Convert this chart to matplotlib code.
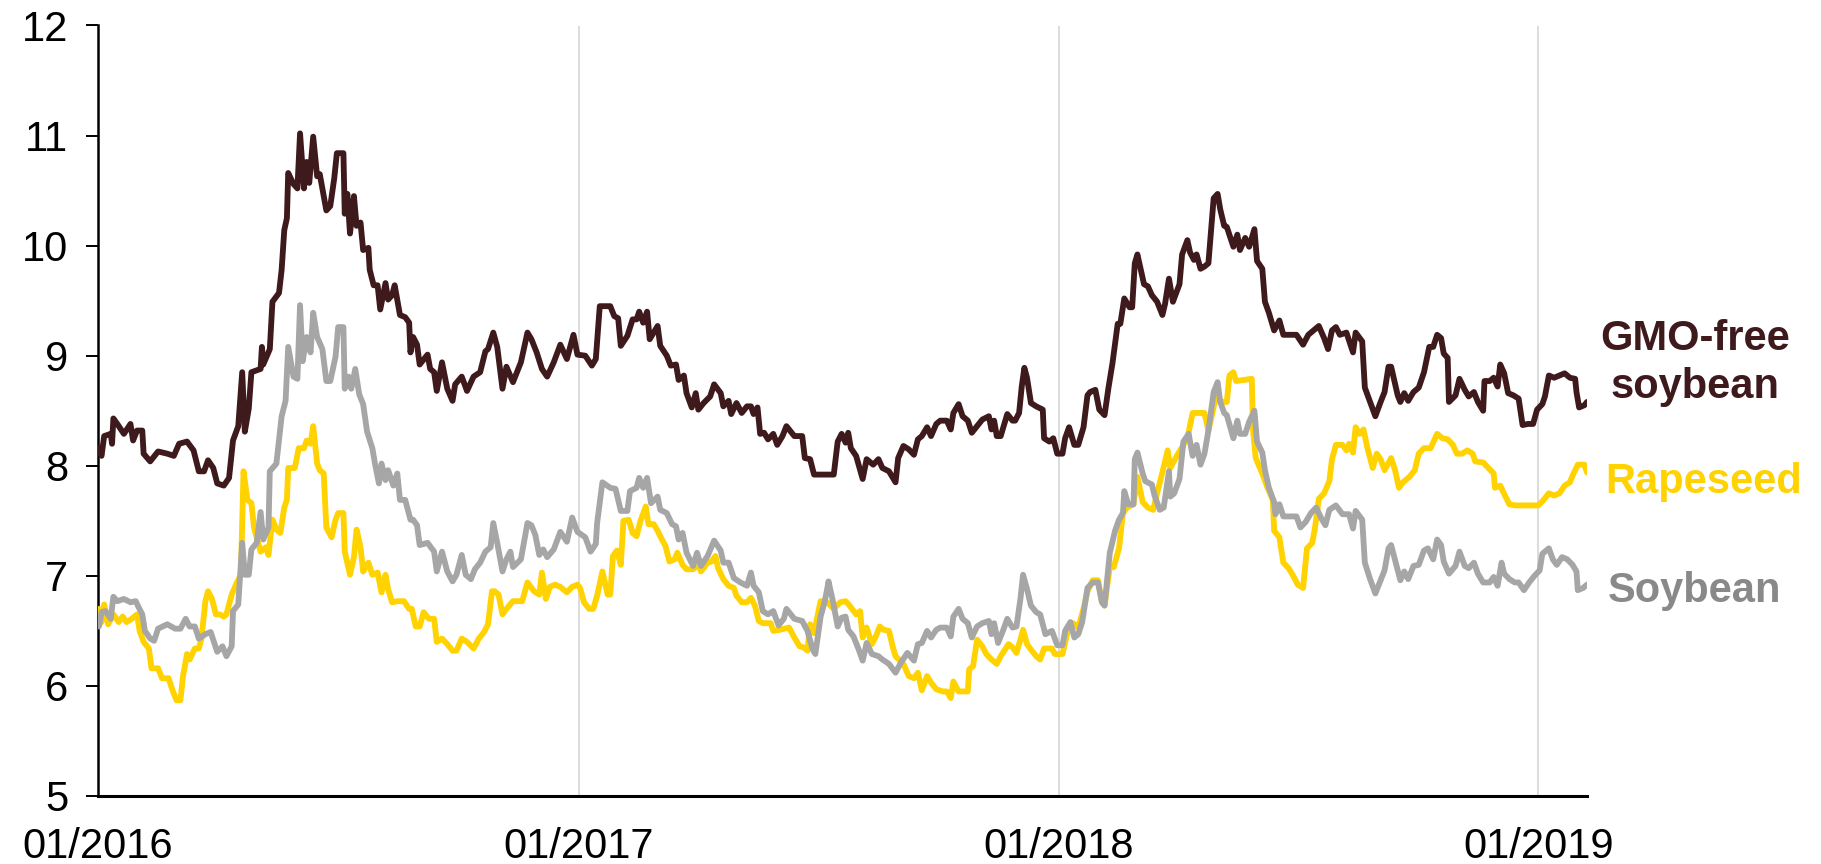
import numpy as np
import pandas as pd
import matplotlib
matplotlib.use("Agg")
import matplotlib.pyplot as plt
import matplotlib.dates as mdates

plt.rcParams["font.family"] = ["Liberation Sans", "DejaVu Sans"]

START = pd.Timestamp("2016-01-01")

# day offsets from 2016-01-01 and prices
gmo_days = [
    1, 3, 5, 10, 11, 12, 15, 20, 25, 27, 30, 34, 35, 40, 46, 53, 58, 62, 68, 73, 77, 81, 84, 88, 91, 96,
    100, 103, 107, 110, 112, 115, 117, 124, 125, 126, 131, 133, 138, 140, 142, 144, 145, 149, 152, 154,
    157, 159, 161, 164, 167, 169, 174, 177, 180, 182, 187, 188, 190, 192, 195, 197, 200, 202, 206, 207,
    210, 213, 215, 219, 221, 224, 226, 230, 234, 237, 238, 240, 243, 245, 251, 253, 256, 258, 262, 266,
    270, 272, 277, 281, 286, 291, 295, 297, 301, 304, 308, 311, 316, 322, 327, 330, 334, 338, 342, 347,
    352, 357, 362, 365,
    371, 376, 379, 382, 390, 393, 396, 398, 403, 407, 410, 412, 415, 418, 420, 426, 428, 433, 436, 440,
    442, 446, 448, 452, 455, 457, 461, 466, 469, 474, 476, 480, 482, 486, 490, 494, 497, 499, 502, 504,
    507, 510, 514, 517, 521, 524, 530, 536, 538, 542, 545, 560, 563, 566, 569, 571, 573, 577, 582, 585,
    590, 594, 597, 602, 607, 609, 613, 617, 621, 624, 627, 631, 634, 638, 641, 646, 649, 651, 655, 658,
    662, 665, 669, 673, 678, 680, 682, 684, 687, 692, 696, 698, 701, 703, 705, 707, 710, 714,
    719, 720, 724, 727, 730, 734, 736, 739, 743, 746, 750, 753, 755, 759, 762, 766, 769, 772, 776, 778,
    781, 785, 787, 789, 791, 796, 799, 802, 806, 810, 812, 815, 818, 823, 825, 829, 831, 834, 836, 839,
    842, 845, 849, 852, 854, 857, 859, 864, 867, 869, 873, 876, 880, 882, 886, 888, 891, 895, 899, 902,
    907, 912, 917, 921, 926, 929, 933, 936, 939, 942, 945, 950, 955, 957, 962, 964, 968, 972, 976, 979,
    982, 984, 989, 991, 994, 997, 1001, 1005, 1009, 1013, 1016, 1019, 1022, 1024, 1027, 1028, 1033,
    1036, 1040, 1043, 1047, 1050, 1054, 1055, 1059, 1062, 1065, 1067, 1070, 1073, 1077, 1081, 1084,
    1088, 1092, 1095, 1099, 1101, 1104, 1108, 1112, 1116, 1120, 1124, 1125, 1127, 1131, 1133,
]
gmo_values = [
    8.16, 8.09, 8.27, 8.29, 8.20, 8.43, 8.38, 8.29, 8.38, 8.23, 8.32, 8.32, 8.11, 8.04, 8.13, 8.11, 8.09,
    8.20, 8.22, 8.14, 7.95, 7.95, 8.05, 7.98, 7.84, 7.82, 7.89, 8.23, 8.36, 8.85, 8.31, 8.52, 8.85, 8.88,
    9.08, 8.92, 9.06, 9.49, 9.57, 9.78, 10.14, 10.25, 10.66, 10.56, 10.52, 11.02, 10.52, 10.76, 10.57,
    10.99, 10.63, 10.65, 10.32, 10.36, 10.61, 10.84, 10.84, 10.29, 10.47, 10.11, 10.45, 10.18, 10.21,
    9.96, 9.98, 9.78, 9.64, 9.64, 9.42, 9.66, 9.51, 9.55, 9.64, 9.37, 9.35, 9.30, 9.03, 9.17, 9.10, 8.92,
    9.01, 8.88, 8.85, 8.68, 8.94, 8.70, 8.59, 8.74, 8.81, 8.68, 8.81, 8.85, 9.04, 9.06, 9.21, 9.08, 8.70,
    8.90, 8.76, 8.94, 9.21, 9.15, 9.03, 8.88, 8.81, 8.94, 9.10, 8.97, 9.19, 9.01,
    9.00, 8.91, 8.97, 9.45, 9.45, 9.36, 9.34, 9.09, 9.18, 9.33, 9.33, 9.40, 9.30, 9.40, 9.15, 9.27, 9.09,
    9.00, 8.91, 8.92, 8.78, 8.82, 8.66, 8.53, 8.66, 8.51, 8.57, 8.63, 8.74, 8.66, 8.54, 8.59, 8.47, 8.57,
    8.48, 8.54, 8.54, 8.47, 8.53, 8.29, 8.30, 8.24, 8.29, 8.19, 8.27, 8.36, 8.27, 8.27, 8.07, 8.06, 7.92,
    7.92, 8.22, 8.29, 8.21, 8.30, 8.16, 8.09, 7.88, 8.06, 8.01, 8.06, 7.98, 7.95, 7.85, 8.07, 8.18, 8.15,
    8.10, 8.24, 8.27, 8.35, 8.27, 8.38, 8.41, 8.41, 8.33, 8.48, 8.56, 8.45, 8.41, 8.30, 8.36, 8.42, 8.45,
    8.33, 8.41, 8.27, 8.27, 8.47, 8.41, 8.41, 8.48, 8.72, 8.89, 8.80, 8.57, 8.54,
    8.51, 8.25, 8.22, 8.25, 8.11, 8.11, 8.25, 8.35, 8.19, 8.19, 8.35, 8.64, 8.67, 8.69, 8.51, 8.46, 8.71,
    8.93, 9.29, 9.29, 9.52, 9.44, 9.44, 9.84, 9.92, 9.65, 9.63, 9.55, 9.49, 9.37, 9.47, 9.70, 9.49, 9.65,
    9.92, 10.05, 9.94, 9.87, 9.92, 9.79, 9.81, 9.84, 10.43, 10.47, 10.33, 10.18, 10.17, 9.99, 10.10, 9.96,
    10.07, 9.99, 10.15, 9.86, 9.79, 9.49, 9.39, 9.23, 9.32, 9.19, 9.19, 9.19, 9.10, 9.19, 9.24, 9.27,
    9.16, 9.06, 9.23, 9.26, 9.19, 9.21, 9.03, 9.21, 9.13, 8.71, 8.58, 8.45, 8.58, 8.67, 8.90, 8.90, 8.64,
    8.58, 8.66, 8.59, 8.67, 8.71, 8.85, 9.08, 9.08, 9.19, 9.16, 9.02, 8.98, 8.58, 8.64, 8.79, 8.69, 8.63,
    8.67, 8.58, 8.50, 8.77, 8.77, 8.80, 8.72, 8.92, 8.84, 8.66, 8.64, 8.61, 8.37, 8.38, 8.38, 8.51, 8.56,
    8.63, 8.82, 8.80, 8.82, 8.84, 8.80, 8.79, 8.67, 8.53, 8.55, 8.58,
]

rapeseed_days = [
    1, 3, 5, 8, 12, 16, 19, 22, 26, 30, 32, 35, 39, 41, 46, 49, 54, 57, 60, 63, 65, 68, 70, 74, 77, 79,
    82, 84, 87, 90, 93, 96, 98, 102, 106, 109, 111, 114, 117, 119, 124, 128, 130, 133, 136, 139, 142,
    144, 145, 150, 153, 157, 159, 162, 164, 167, 169, 172, 174, 178, 181, 183, 187, 188, 192, 195, 197,
    200, 202, 206, 209, 213, 216, 219, 221, 224, 228, 233, 237, 239, 242, 245, 248, 252, 256, 258, 262,
    266, 270, 273, 277, 281, 286, 290, 294, 297, 300, 302, 305, 308, 311, 316, 323, 327, 332, 336, 338,
    341, 344, 348, 352, 357, 361, 365,
    367, 370, 374, 377, 380, 384, 388, 390, 392, 395, 398, 400, 404, 407, 410, 413, 417, 419, 423, 426,
    428, 432, 435, 439, 441, 445, 448, 453, 457, 459, 464, 467, 470, 472, 476, 480, 484, 486, 490, 494,
    497, 500, 503, 506, 512, 514, 519, 526, 530, 534, 537, 540, 542, 545, 550, 555, 560, 565, 569, 572,
    577, 580, 582, 585, 589, 592, 595, 598, 602, 605, 607, 613, 617, 621, 624, 627, 631, 634, 638, 643,
    646, 649, 651, 655, 662, 663, 666, 669, 673, 676, 680, 684, 687, 693, 696, 699, 702, 704, 707, 710,
    714,
    717, 720, 726, 728, 734, 738, 742, 746, 750, 753, 757, 761, 764, 766, 770, 773, 777, 780, 783, 788,
    791, 795, 799, 803, 807, 810, 814, 816, 821, 825, 829, 833, 842, 845, 851, 855, 859, 861, 864, 866,
    878, 879, 881, 886, 890, 894, 895, 899, 902, 906, 910, 913, 917, 920, 924, 926, 929, 933, 937, 939,
    942, 947, 950, 952, 955, 957, 960, 963, 966, 970, 973, 976, 979, 984, 987, 990, 993, 998, 1002, 1005,
    1009, 1014, 1019, 1023, 1027, 1031, 1034, 1038, 1042, 1046, 1048, 1054, 1058, 1062, 1063, 1067,
    1071, 1074, 1078, 1096, 1100, 1104, 1108, 1112, 1116, 1120, 1122, 1126, 1131, 1133,
]
rapeseed_values = [
    6.70, 6.58, 6.74, 6.56, 6.65, 6.58, 6.63, 6.58, 6.61, 6.65, 6.50, 6.40, 6.34, 6.16, 6.16, 6.07, 6.07,
    5.96, 5.87, 5.87, 6.09, 6.29, 6.24, 6.34, 6.34, 6.43, 6.77, 6.86, 6.79, 6.65, 6.65, 6.63, 6.65, 6.83,
    6.94, 7.01, 7.95, 7.69, 7.66, 7.44, 7.22, 7.26, 7.19, 7.51, 7.42, 7.39, 7.62, 7.69, 7.98, 7.98, 8.16,
    8.16, 8.23, 8.20, 8.36, 8.02, 7.96, 7.93, 7.44, 7.35, 7.51, 7.57, 7.57, 7.22, 7.01, 7.17, 7.42, 7.26,
    7.04, 7.12, 7.01, 7.03, 6.85, 7.01, 6.88, 6.76, 6.77, 6.77, 6.70, 6.70, 6.54, 6.54, 6.67, 6.61, 6.61,
    6.40, 6.43, 6.38, 6.32, 6.32, 6.43, 6.40, 6.34, 6.43, 6.49, 6.56, 6.86, 6.86, 6.83, 6.65, 6.70, 6.77,
    6.77, 6.94, 6.86, 6.83, 7.03, 6.79, 6.90, 6.92, 6.90, 6.85, 6.90, 6.92,
    6.89, 6.76, 6.70, 6.70, 6.82, 7.04, 6.83, 6.83, 7.18, 7.23, 7.10, 7.50, 7.51, 7.39, 7.36, 7.50, 7.63,
    7.47, 7.47, 7.41, 7.36, 7.27, 7.13, 7.15, 7.21, 7.10, 7.06, 7.06, 7.10, 7.04, 7.12, 7.13, 7.18, 7.07,
    6.97, 6.91, 6.89, 6.82, 6.76, 6.76, 6.80, 6.73, 6.59, 6.57, 6.57, 6.50, 6.51, 6.53, 6.44, 6.36, 6.35,
    6.32, 6.56, 6.48, 6.77, 6.76, 6.70, 6.76, 6.77, 6.73, 6.65, 6.68, 6.44, 6.53, 6.38, 6.45, 6.54, 6.51,
    6.50, 6.35, 6.27, 6.20, 6.09, 6.07, 6.12, 5.96, 6.09, 6.03, 5.97, 5.95, 5.95, 5.89, 6.04, 5.95, 5.95,
    6.15, 6.18, 6.42, 6.36, 6.29, 6.24, 6.20, 6.27, 6.38, 6.35, 6.30, 6.42, 6.51, 6.38, 6.33, 6.27,
    6.24, 6.34, 6.34, 6.29, 6.29, 6.50, 6.57, 6.53, 6.70, 6.86, 6.96, 6.96, 6.76, 6.73, 7.08, 7.08, 7.25,
    7.57, 7.62, 7.65, 7.90, 7.67, 7.62, 7.60, 7.80, 7.94, 8.14, 7.98, 8.09, 8.17, 8.25, 8.48, 8.48, 8.32,
    8.64, 8.58, 8.58, 8.82, 8.85, 8.77, 8.79, 8.32, 8.07, 7.93, 7.80, 7.69, 7.41, 7.35, 7.12, 7.07, 6.99,
    6.92, 6.89, 7.25, 7.30, 7.43, 7.70, 7.75, 7.86, 8.06, 8.19, 8.19, 8.14, 8.20, 8.12, 8.35, 8.29, 8.33,
    8.16, 7.98, 8.11, 8.06, 7.96, 8.07, 7.96, 7.80, 7.85, 7.90, 7.96, 8.11, 8.16, 8.16, 8.29, 8.25, 8.24,
    8.19, 8.11, 8.11, 8.14, 8.11, 8.04, 8.03, 7.98, 7.93, 7.80, 7.82, 7.72, 7.65, 7.64, 7.64, 7.69, 7.75,
    7.73, 7.75, 7.82, 7.85, 7.91, 8.01, 8.01, 7.94,
]

soybean_days = [
    1, 3, 6, 10, 12, 15, 20, 25, 29, 31, 34, 36, 40, 43, 46, 53, 59, 63, 67, 70, 74, 77, 82, 86, 91, 95,
    98, 102, 103, 107, 110, 112, 115, 117, 121, 124, 126, 130, 131, 136, 140, 143, 145, 149, 152, 154,
    156, 159, 162, 164, 167, 171, 174, 177, 181, 183, 187, 188, 191, 193, 196, 199, 202, 205, 209, 211,
    214, 216, 219, 221, 225, 228, 230, 234, 238, 240, 243, 245, 251, 256, 258, 262, 266, 270, 273, 277,
    280, 284, 287, 291, 295, 299, 301, 304, 308, 311, 314, 316, 322, 327, 330, 333, 336, 339, 342, 347,
    352, 357, 361, 365,
    371, 375, 379, 380, 384, 390, 394, 398, 403, 405, 410, 412, 415, 418, 421, 426, 428, 433, 437, 440,
    442, 445, 448, 453, 456, 459, 464, 469, 474, 476, 480, 484, 489, 494, 497, 499, 503, 506, 510, 514,
    518, 522, 524, 530, 536, 540, 544, 546, 550, 553, 555, 556, 559, 563, 566, 569, 571, 575, 579, 582,
    585, 589, 594, 597, 602, 607, 611, 616, 621, 624, 627, 631, 634, 638, 641, 646, 649, 651, 655, 658,
    662, 665, 669, 673, 678, 680, 682, 685, 689, 692, 696, 699, 702, 704, 707, 710, 714,
    717, 721, 726, 730, 734, 736, 740, 743, 746, 749, 753, 757, 761, 764, 766, 770, 774, 777, 780, 781,
    784, 788, 789, 791, 795, 797, 802, 804, 808, 811, 815, 816, 819, 823, 826, 830, 833, 836, 839, 842,
    845, 849, 852, 854, 857, 859, 864, 867, 869, 873, 876, 880, 882, 886, 888, 891, 895, 896, 899, 902,
    912, 915, 919, 923, 927, 931, 934, 937, 942, 947, 952, 955, 957, 962, 964, 968, 972, 976, 979, 982,
    984, 989, 991, 994, 997, 1001, 1005, 1009, 1012, 1016, 1019, 1022, 1024, 1028, 1033, 1036, 1040,
    1043, 1047, 1050, 1054, 1059, 1062, 1065, 1068, 1070, 1074, 1078, 1081, 1085, 1089, 1093, 1097,
    1099, 1104, 1107, 1110, 1114, 1118, 1122, 1125, 1126, 1130, 1133,
]
soybean_values = [
    6.54, 6.67, 6.68, 6.61, 6.81, 6.77, 6.79, 6.76, 6.77, 6.72, 6.65, 6.50, 6.43, 6.41, 6.52, 6.56, 6.52,
    6.52, 6.61, 6.54, 6.54, 6.43, 6.47, 6.49, 6.31, 6.36, 6.27, 6.36, 6.68, 6.74, 7.30, 7.01, 7.01, 7.24,
    7.30, 7.58, 7.33, 7.44, 7.95, 8.02, 8.45, 8.59, 9.08, 8.81, 8.79, 9.46, 8.95, 9.17, 9.03, 9.39, 9.17,
    9.06, 8.77, 8.77, 8.99, 9.26, 9.26, 8.70, 8.81, 8.70, 8.88, 8.65, 8.56, 8.31, 8.16, 8.02, 7.84, 8.02,
    7.87, 7.96, 7.82, 7.93, 7.69, 7.69, 7.51, 7.51, 7.46, 7.28, 7.30, 7.22, 7.04, 7.22, 7.04, 6.95, 7.01,
    7.19, 7.01, 6.97, 7.06, 7.12, 7.22, 7.26, 7.48, 7.30, 7.04, 7.15, 7.22, 7.08, 7.15, 7.48, 7.46, 7.37,
    7.19, 7.24, 7.17, 7.24, 7.40, 7.31, 7.53, 7.40,
    7.35, 7.22, 7.29, 7.48, 7.85, 7.80, 7.79, 7.59, 7.59, 7.77, 7.80, 7.89, 7.80, 7.89, 7.66, 7.72, 7.60,
    7.57, 7.47, 7.45, 7.33, 7.39, 7.21, 7.09, 7.21, 7.09, 7.18, 7.32, 7.23, 7.12, 7.12, 6.98, 6.94, 6.91,
    7.03, 6.91, 6.85, 6.68, 6.65, 6.68, 6.55, 6.61, 6.70, 6.61, 6.59, 6.50, 6.33, 6.29, 6.63, 6.76, 6.88,
    6.95, 6.79, 6.54, 6.62, 6.63, 6.51, 6.45, 6.33, 6.23, 6.39, 6.29, 6.27, 6.24, 6.20, 6.12, 6.21, 6.30,
    6.23, 6.38, 6.39, 6.50, 6.44, 6.51, 6.53, 6.53, 6.45, 6.63, 6.70, 6.61, 6.57, 6.44, 6.54, 6.57, 6.59,
    6.47, 6.57, 6.39, 6.51, 6.61, 6.53, 6.54, 6.79, 7.01, 6.88, 6.73, 6.67,
    6.65, 6.47, 6.50, 6.37, 6.37, 6.50, 6.58, 6.44, 6.47, 6.58, 6.89, 6.94, 6.94, 6.76, 6.73, 7.21, 7.41,
    7.51, 7.57, 7.77, 7.65, 7.65, 8.06, 8.12, 7.93, 7.86, 7.83, 7.73, 7.60, 7.62, 7.95, 7.72, 7.75, 7.88,
    8.22, 8.29, 8.09, 8.19, 8.01, 8.11, 8.32, 8.67, 8.76, 8.58, 8.48, 8.46, 8.25, 8.41, 8.29, 8.29, 8.40,
    8.50, 8.22, 8.12, 7.96, 7.80, 7.67, 7.56, 7.65, 7.54, 7.54, 7.44, 7.49, 7.57, 7.62, 7.52, 7.46, 7.60,
    7.64, 7.56, 7.56, 7.43, 7.59, 7.51, 7.12, 6.97, 6.84, 6.96, 7.05, 7.25, 7.28, 7.05, 6.96, 7.04, 6.97,
    7.09, 7.10, 7.23, 7.25, 7.15, 7.33, 7.28, 7.13, 7.02, 7.09, 7.22, 7.09, 7.07, 7.12, 7.02, 6.94, 6.94,
    6.99, 6.91, 7.12, 7.02, 6.97, 6.94, 6.94, 6.87, 6.94, 7.00, 7.05, 7.20, 7.25, 7.15, 7.10, 7.17, 7.15,
    7.10, 7.04, 6.87, 6.89, 6.92,
]

year_ticks = ["2016-01-01", "2017-01-01", "2018-01-01", "2019-01-01"]
x_end = "2019-02-07"

DARK = "#3E1A1D"
YELLOW = "#FFD200"
GREY_LINE = "#A6A6A6"
GREY_TEXT = "#898989"


def to_dates(days):
    return START + pd.to_timedelta(days, unit="D")


W, H = 1821, 864
fig = plt.figure(figsize=(W / 100, H / 100), dpi=100)
ax = fig.add_axes([97.6 / W, 1 - 796 / H, (1587 - 97.6) / W, (796 - 25.5) / H])

line_kw = dict(lw=4.2, solid_joinstyle="round", solid_capstyle="round")
ax.plot(to_dates(rapeseed_days), rapeseed_values, color=YELLOW, zorder=3, **line_kw)
ax.plot(to_dates(soybean_days), soybean_values, color=GREY_LINE, zorder=4, **line_kw)
ax.plot(to_dates(gmo_days), gmo_values, color=DARK, zorder=5, **line_kw)

ax.set_xlim(pd.Timestamp(year_ticks[0]), pd.Timestamp(x_end))
ax.set_ylim(5, 12)
ax.set_yticks(range(5, 13))

ticks = pd.to_datetime(year_ticks)
ax.set_xticks(ticks)
ax.xaxis.set_major_formatter(mdates.DateFormatter("%m/%Y"))
for t in ticks[1:]:
    ax.axvline(t, color="#D9D9D9", lw=1.3, zorder=1)

for side in ["top", "right"]:
    ax.spines[side].set_visible(False)
ax.spines["left"].set_linewidth(1.8)
ax.spines["bottom"].set_linewidth(2.2)
ax.tick_params(axis="y", length=9, width=1.4, pad=12, labelsize=30)
ax.tick_params(axis="x", length=0, pad=22, labelsize=30)

fig.text(1695 / W, 1 - 350 / H, "GMO-free", color=DARK, fontsize=30, fontweight="bold",
         ha="center", va="baseline")
fig.text(1695 / W, 1 - 398 / H, "soybean", color=DARK, fontsize=30, fontweight="bold",
         ha="center", va="baseline")
fig.text(1605 / W, 1 - 493 / H, "Rapeseed", color=YELLOW, fontsize=30, fontweight="bold",
         ha="left", va="baseline")
fig.text(1608 / W, 1 - 602 / H, "Soybean", color=GREY_TEXT, fontsize=30, fontweight="bold",
         ha="left", va="baseline")

fig.savefig("out.png", dpi=100)
